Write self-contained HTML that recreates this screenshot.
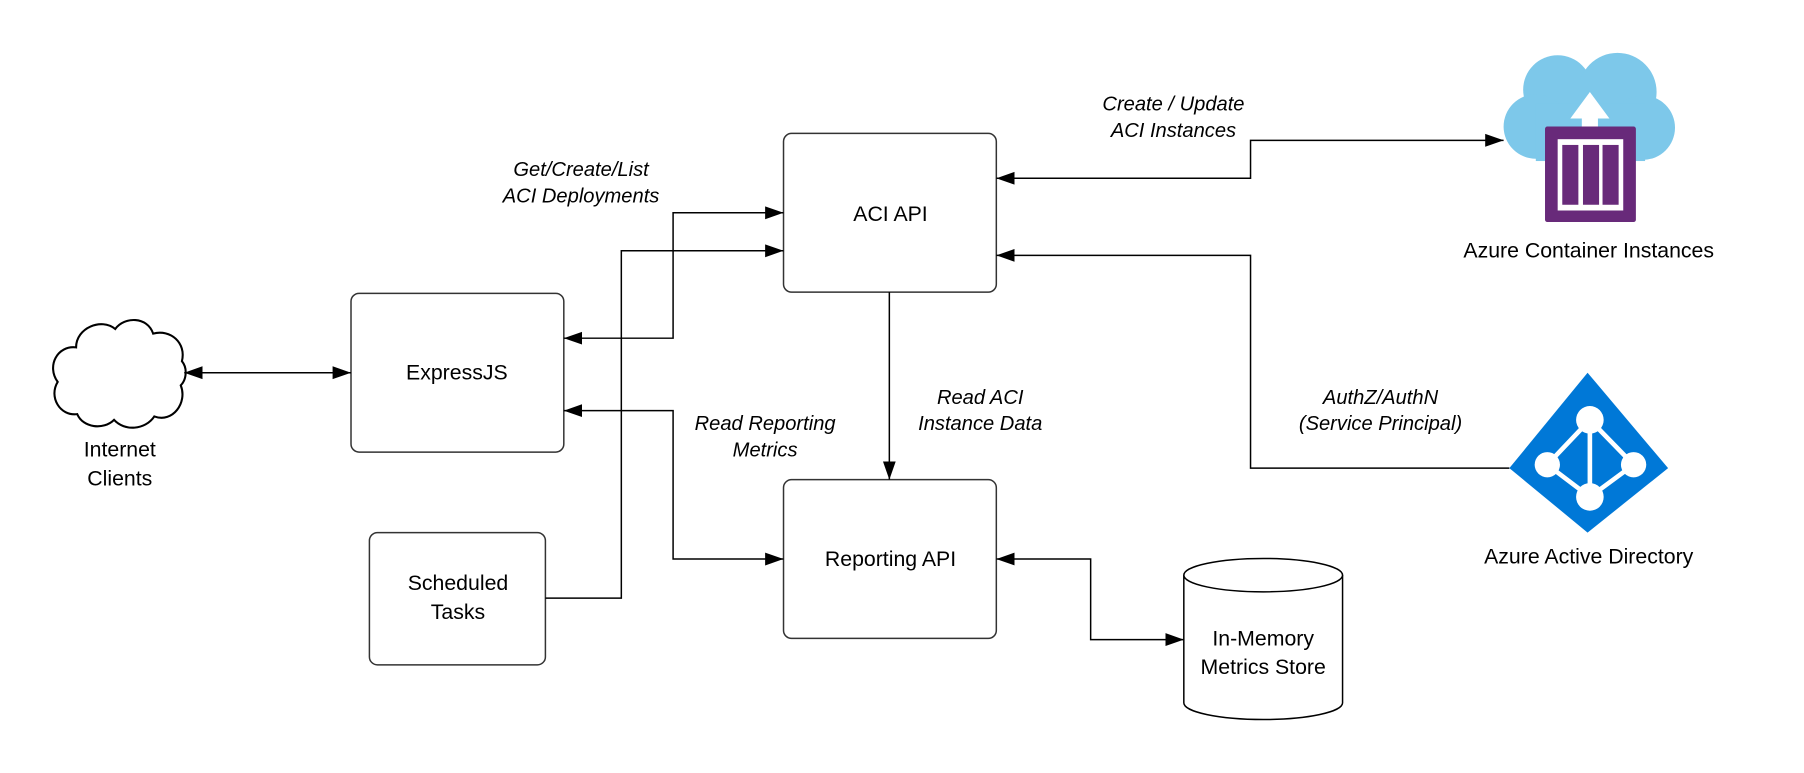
<!DOCTYPE html>
<html><head><meta charset="utf-8"><style>
html,body{margin:0;padding:0;background:#fff;}
svg{display:block;}
text{font-family:"Liberation Sans",Arial,sans-serif;fill:#000;}
.l{font-size:18.5px;text-anchor:middle;}
.i{font-size:17.5px;font-style:italic;text-anchor:middle;}
.b{fill:#fff;stroke:#333;stroke-width:1.3;}
.c{fill:none;stroke:#000;stroke-width:1.3;}
</style></head><body>
<svg width="1804" height="773" viewBox="0 0 1568 672" xmlns="http://www.w3.org/2000/svg">
<defs>
<marker id="a" viewBox="0 0 10 10" refX="10" refY="5" markerWidth="16" markerHeight="16" markerUnits="userSpaceOnUse" orient="auto-start-reverse">
<path d="M0,1.5 L10,5 L0,8.5 z" fill="#000"/></marker>
</defs>
<rect width="1568" height="672" fill="#fff"/>

<!-- internet cloud -->
<path d="M67,360 C52,362 42,345 50,332 C40,318 50,300 66,302 C66,285 88,276 100,286 C108,275 128,275 133,290 C148,286 162,298 158,314 C163,320 162,330 157,335 C163,350 150,368 134,362 C126,374 108,375 99,365 C90,374 72,372 67,360 Z" fill="#fff" stroke="#000" stroke-width="1.8"/>
<text class="l" x="104" y="397">Internet</text>
<text class="l" x="104" y="422">Clients</text>

<!-- boxes -->
<rect class="b" x="305" y="255" width="185" height="138" rx="7"/>
<text class="l" x="397" y="330">ExpressJS</text>
<rect class="b" x="321" y="463" width="153" height="115" rx="7"/>
<text class="l" x="398" y="513">Scheduled</text>
<text class="l" x="398" y="538">Tasks</text>
<rect class="b" x="681" y="116" width="185" height="138" rx="7"/>
<text class="l" x="774" y="192">ACI API</text>
<rect class="b" x="681" y="417" width="185" height="138" rx="7"/>
<text class="l" x="774" y="492">Reporting API</text>

<!-- cylinder -->
<path d="M1029,500 L1029,611 A69,14.5 0 0 0 1167,611 L1167,500" fill="#fff" stroke="#000" stroke-width="1.3"/>
<ellipse cx="1098" cy="500" rx="69" ry="14.5" fill="#fff" stroke="#000" stroke-width="1.3"/>
<text class="l" x="1098" y="561">In-Memory</text>
<text class="l" x="1098" y="586">Metrics Store</text>

<!-- ACI icon -->
<g fill="#7dc8ea">
<circle cx="1354" cy="78" r="30"/><circle cx="1406" cy="80" r="34"/>
<circle cx="1335" cy="110" r="28"/><circle cx="1428" cy="111" r="28"/>
<rect x="1335" y="90" width="95" height="50"/>
</g>
<rect x="1375" y="102" width="14" height="20" fill="#fff"/>
<path d="M1365,103 L1382,80 L1399,103 Z" fill="#fff"/>
<rect x="1343" y="110" width="79" height="83" rx="2" fill="#682a7a"/>
<rect x="1354" y="121" width="57" height="62" fill="#fff"/>
<rect x="1358" y="126" width="14" height="52" fill="#682a7a"/>
<rect x="1376" y="126" width="14" height="52" fill="#682a7a"/>
<rect x="1393" y="126" width="14" height="52" fill="#682a7a"/>
<text class="l" x="1381" y="224">Azure Container Instances</text>

<!-- AAD -->
<path d="M1380,324 L1450,407 L1380,463 L1312,407 Z" fill="#0078d7"/>
<g stroke="#fff" stroke-width="4" fill="none">
<path d="M1382,365 L1345,404 L1382,432 L1420,404 Z M1382,365 L1382,432"/>
</g>
<g fill="#fff"><circle cx="1382" cy="365" r="12"/><circle cx="1345" cy="404" r="11"/><circle cx="1420" cy="404" r="11"/><circle cx="1382" cy="432" r="12"/></g>
<text class="l" x="1381" y="490">Azure Active Directory</text>

<!-- connectors -->
<path class="c" d="M160,324 L305,324" marker-start="url(#a)" marker-end="url(#a)"/>
<path class="c" d="M490,294 L585,294 L585,185 L681,185" marker-start="url(#a)" marker-end="url(#a)"/>
<path class="c" d="M474,520 L540,520 L540,218 L681,218" marker-end="url(#a)"/>
<path class="c" d="M490,357 L585,357 L585,486 L681,486" marker-start="url(#a)" marker-end="url(#a)"/>
<path class="c" d="M773,254 L773,417" marker-end="url(#a)"/>
<path class="c" d="M866,486 L948,486 L948,556 L1029,556" marker-start="url(#a)" marker-end="url(#a)"/>
<path class="c" d="M866,155 L1087,155 L1087,122 L1307,122" marker-start="url(#a)" marker-end="url(#a)"/>
<path class="c" d="M1312,407 L1087,407 L1087,222 L866,222" marker-end="url(#a)"/>

<!-- labels -->
<text class="i" x="505" y="153">Get/Create/List</text>
<text class="i" x="505" y="176">ACI Deployments</text>
<text class="i" x="1020" y="96">Create / Update</text>
<text class="i" x="1020" y="119">ACI Instances</text>
<text class="i" x="665" y="374">Read Reporting</text>
<text class="i" x="665" y="397">Metrics</text>
<text class="i" x="852" y="351">Read ACI</text>
<text class="i" x="852" y="374">Instance Data</text>
<text class="i" x="1200" y="351">AuthZ/AuthN</text>
<text class="i" x="1200" y="374">(Service Principal)</text>
</svg>
</body></html>
